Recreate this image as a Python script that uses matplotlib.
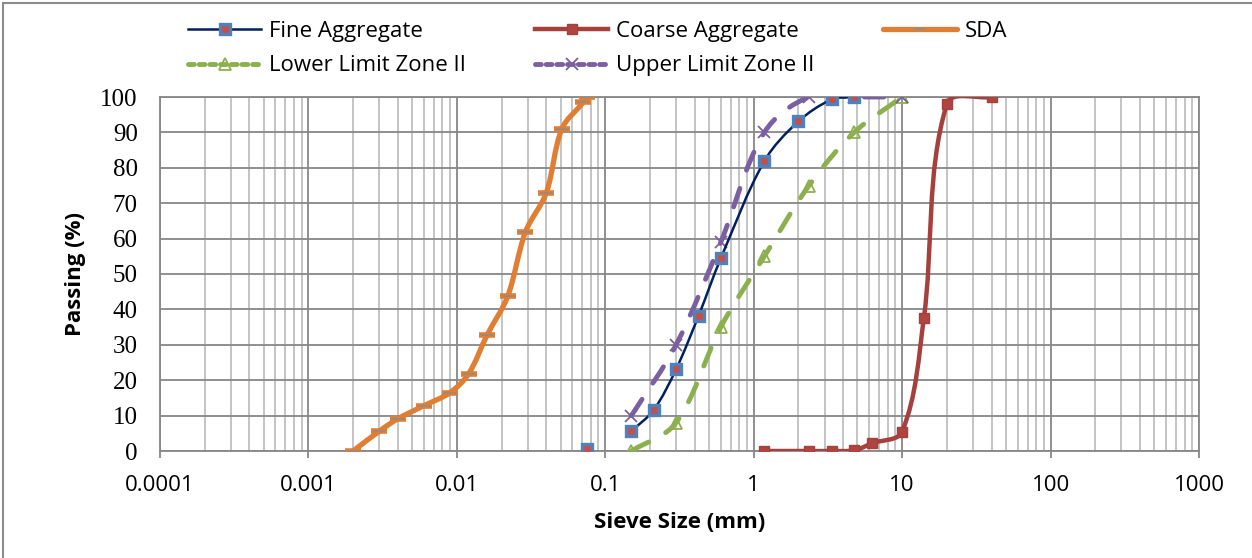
import numpy as np
import matplotlib.pyplot as plt
from matplotlib.path import Path
from matplotlib.patches import PathPatch
from matplotlib.lines import Line2D
from matplotlib.ticker import FixedLocator, LogLocator, FuncFormatter, MultipleLocator

# sieve analysis readings (size in mm, % passing)
fine_size = [0.15, 0.212, 0.3, 0.425, 0.6, 1.18, 2.0, 3.35, 4.75]
fine_pass = [5.6, 11.6, 23.1, 38.2, 54.4, 81.9, 93.1, 99.3, 100]
fine_pan_size = [0.075]
fine_pan_pass = [0.7]

coarse_size = [1.18, 2.36, 3.35, 4.75, 6.3, 10, 14, 20, 40]
coarse_pass = [0, 0, 0, 0.2, 2.2, 5.5, 37.5, 98, 100]

sda_size = [0.002, 0.003, 0.004, 0.006, 0.009, 0.012, 0.016, 0.022,
            0.029, 0.04, 0.051, 0.071, 0.075]
sda_pass = [0, 5.6, 9.1, 12.8, 16.5, 21.8, 32.8, 43.7, 61.9, 72.9, 91.0, 98.5, 100]

zone_size = [0.15, 0.3, 0.6, 1.18, 2.36, 4.75, 10]
lower_zone2 = [0, 8, 35, 55, 75, 90, 100]
upper_zone2 = [10, 30, 59, 90, 100, 100, 100]

NAVY = '#002060'
BLUE = '#4F81BD'
RED = '#A5403D'
ORANGE = '#E07E34'
GREEN = '#8DB04E'
PURPLE = '#7B5FA0'
GRID = '#878787'
MINOR = '#BFBFBF'
SANS = ['Open Sans', 'DejaVu Sans']

# y-units per decade, so curve tangents are taken in the plot's own proportions
DECADE = 42.0


def smooth_path(xs, ys, k=0.33):
    """Bezier curve through the points; control arms follow the chord length."""
    p = np.column_stack([np.log10(xs) * DECADE, ys])
    n = len(p)
    tang = []
    for i in range(n):
        d = p[min(i + 1, n - 1)] - p[max(i - 1, 0)]
        tang.append(d / np.hypot(*d))
    verts = [p[0]]
    codes = [Path.MOVETO]
    for i in range(n - 1):
        chord = np.hypot(*(p[i + 1] - p[i]))
        verts += [p[i] + tang[i] * chord * k,
                  p[i + 1] - tang[i + 1] * chord * k,
                  p[i + 1]]
        codes += [Path.CURVE4] * 3
    v = np.array(verts)
    v[:, 0] = 10 ** (v[:, 0] / DECADE)
    return Path(v, codes)


def add_curve(ax, xs, ys, **kw):
    patch = PathPatch(smooth_path(xs, ys), fill=False, capstyle='round',
                      joinstyle='round', **kw)
    ax.add_patch(patch)


fig = plt.figure(figsize=(12.52, 5.58), dpi=100)
ax = fig.add_axes([160 / 1252, 1 - 451 / 558, (1199 - 160) / 1252, (451 - 97) / 558])

ax.set_xscale('log')
ax.set_xlim(1e-4, 1e3)
ax.set_ylim(0, 100)

# zone II limits
dash = (0, (4, 4))
add_curve(ax, zone_size, lower_zone2, edgecolor=GREEN, lw=3.5, linestyle=dash, zorder=3)
ax.plot(zone_size, lower_zone2, ls='none', marker='^', ms=9, mfc='none',
        mec=GREEN, mew=1.3, zorder=3)
add_curve(ax, zone_size, upper_zone2, edgecolor=PURPLE, lw=3.5, linestyle=dash, zorder=3)
ax.plot(zone_size, upper_zone2, ls='none', marker='x', ms=9, mec=PURPLE,
        mew=1.3, zorder=3)

# fine aggregate
add_curve(ax, fine_size, fine_pass, edgecolor=NAVY, lw=1.8, zorder=4)
ax.plot(fine_size + fine_pan_size, fine_pass + fine_pan_pass, ls='none',
        marker='s', ms=7, mfc='#C0504D', mec=BLUE, mew=2.4, zorder=5)

# coarse aggregate
add_curve(ax, coarse_size, coarse_pass, edgecolor=RED, lw=3.2, zorder=4)
ax.plot(coarse_size, coarse_pass, ls='none', marker='s', ms=7.5,
        mfc='#B0443F', mec=RED, mew=1, zorder=5)

# SDA
add_curve(ax, sda_size, sda_pass, edgecolor=ORANGE, lw=3.8, zorder=4)
ax.plot(sda_size, sda_pass, ls='none', marker='_', ms=11, mec=ORANGE,
        mew=4, zorder=5)
ax.plot(sda_size, sda_pass, ls='none', marker='_', ms=8, mec='#8C8C8C',
        mew=1.1, zorder=6)

# axes styling
decades = 10.0 ** np.arange(-4, 4)
ax.xaxis.set_major_locator(FixedLocator(decades))
ax.xaxis.set_minor_locator(LogLocator(base=10, subs=np.arange(2, 10), numticks=20))
ax.xaxis.set_major_formatter(FuncFormatter(lambda v, _: f'{v:g}'))
ax.yaxis.set_major_locator(MultipleLocator(10))
ax.grid(which='major', color=GRID, lw=1.3, zorder=0)
ax.grid(which='minor', axis='x', color=MINOR, lw=1.3, zorder=0)
ax.set_axisbelow(True)
for s in ax.spines.values():
    s.set_color(GRID)
    s.set_linewidth(1.3)

ax.tick_params(axis='x', which='major', length=5, width=1.3, color=GRID,
               pad=12, labelsize=16)
ax.tick_params(axis='x', which='minor', length=0, labelbottom=False)
ax.tick_params(axis='y', length=0, pad=16, labelsize=18)
for lab in ax.get_xticklabels():
    lab.set_family(SANS)
for lab in ax.get_yticklabels():
    lab.set_family('Liberation Serif')

ax.set_xlabel('Sieve Size (mm)', family=SANS, fontsize=16, fontweight='bold',
              labelpad=12)
ax.set_ylabel('Passing (%)', family=SANS, fontsize=16, fontweight='bold',
              labelpad=10)

# legend, three columns across the top
handles = [
    Line2D([], [], color=NAVY, lw=1.8, marker='s', ms=7, mfc='#C0504D', mec=BLUE, mew=2.4),
    Line2D([], [], color=GREEN, lw=3.5, ls=(0, (1.2, 1.0)), dash_capstyle='round',
           marker='^', ms=9, mfc='none', mec=GREEN, mew=1.3),
    Line2D([], [], color=RED, lw=3.2, marker='s', ms=7.5, mfc='#B0443F', mec=RED, mew=1),
    Line2D([], [], color=PURPLE, lw=3.5, ls=(0, (1.2, 1.0)), dash_capstyle='round',
           marker='x', ms=9, mec=PURPLE, mew=1.3),
    Line2D([], [], color=ORANGE, lw=3.8, solid_capstyle='round', marker='_',
           ms=8, mec='#8C8C8C', mew=1.1),
]
labels = ['Fine Aggregate', 'Lower Limit Zone II', 'Coarse Aggregate',
          'Upper Limit Zone II', 'SDA']
fig.legend(handles, labels, loc='upper left', bbox_to_anchor=(188 / 1252, 1 - 21 / 558),
           ncol=3, frameon=False, prop={'family': SANS, 'size': 16},
           handlelength=3.3, handletextpad=0.35, columnspacing=3.1,
           labelspacing=0.6, borderpad=0, borderaxespad=0)

# chart frame
fig.add_artist(Line2D([3 / 1252, 3 / 1252], [0, 1 - 3 / 558], color='#8C8C8C', lw=1.5))
fig.add_artist(Line2D([3 / 1252, 1], [1 - 3 / 558, 1 - 3 / 558], color='#8C8C8C', lw=1.5))

fig.savefig('out.png', dpi=100)
